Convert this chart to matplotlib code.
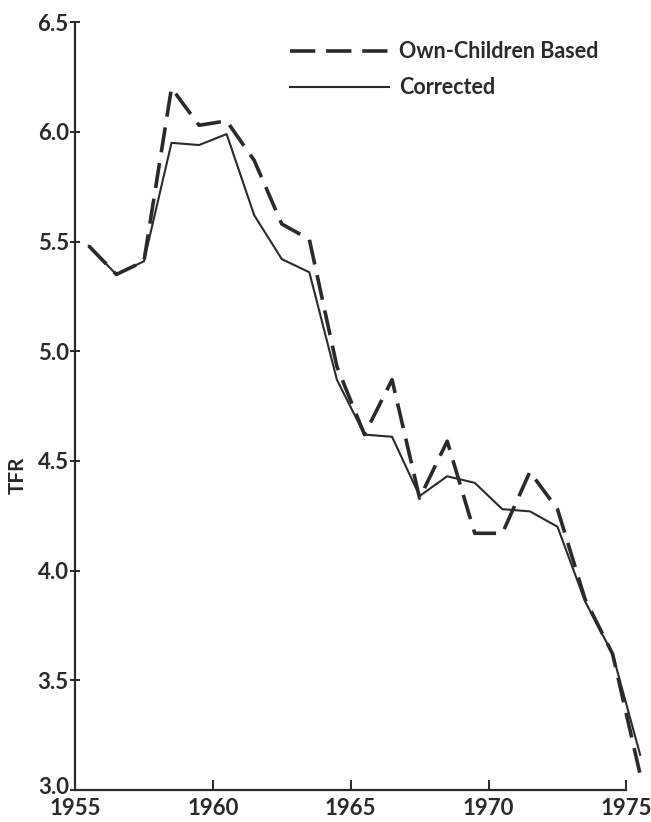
import matplotlib.pyplot as plt
from matplotlib.transforms import ScaledTranslation

plt.rcParams["font.family"] = ["Lato", "DejaVu Sans"]

# mid-year TFR estimates
years = [1955.5, 1956.5, 1957.5, 1958.5, 1959.5, 1960.5, 1961.5, 1962.5, 1963.5, 1964.5, 1965.5,
         1966.5, 1967.5, 1968.5, 1969.5, 1970.5, 1971.5, 1972.5, 1973.5, 1974.5, 1975.5]
own_children = [5.48, 5.35, 5.41, 6.20, 6.03, 6.05, 5.87, 5.58, 5.51, 4.93, 4.62,
                4.87, 4.33, 4.59, 4.17, 4.17, 4.45, 4.28, 3.87, 3.62, 3.07]
corrected = [5.48, 5.35, 5.41, 5.95, 5.94, 5.99, 5.62, 5.42, 5.36, 4.87, 4.62,
             4.61, 4.34, 4.43, 4.40, 4.28, 4.27, 4.20, 3.86, 3.62, 3.16]

x_ticks = [1955, 1960, 1965, 1970, 1975]
y_ticks = [3.0, 3.5, 4.0, 4.5, 5.0, 5.5, 6.0, 6.5]

ink = "#2a2a2a"

fig = plt.figure(figsize=(6.51, 8.22), dpi=100)
ax = fig.add_axes([0.1152, 0.039, 0.847, 0.934])

ax.plot(years, own_children, color=ink, lw=2.6, dashes=(7, 3), clip_on=False,
        label="Own-Children Based")
ax.plot(years, corrected, color=ink, lw=1.5, clip_on=False, label="Corrected")

ax.set_xlim(1955, 1975)
ax.set_ylim(3.0, 6.5)
ax.set_xticks(x_ticks)
ax.set_yticks(y_ticks)
ax.set_yticklabels([f"{v:.1f}" for v in y_ticks])

for side in ("top", "right"):
    ax.spines[side].set_visible(False)
for side in ("left", "bottom"):
    ax.spines[side].set_color(ink)
    ax.spines[side].set_linewidth(1.6)

ax.tick_params(axis="x", direction="in", length=7, width=1.4, color=ink,
               labelsize=16, labelcolor=ink, pad=6)
ax.tick_params(axis="y", direction="inout", length=7, width=1.4, color=ink,
               labelsize=16, labelcolor=ink, pad=1)
for lab in ax.get_xticklabels() + ax.get_yticklabels():
    lab.set_fontweight("bold")

# lift the bottom "3.0" a touch so it clears the "1955" below it
bottom_lab = ax.get_yticklabels()[0]
bottom_lab.set_transform(bottom_lab.get_transform() + ScaledTranslation(0, 3 / 72, fig.dpi_scale_trans))

ax.set_ylabel("TFR", fontsize=15, fontweight="bold", color=ink)
ax.yaxis.set_label_coords(-0.085, 0.41)

leg = ax.legend(loc="upper left", bbox_to_anchor=(0.39, 0.975), frameon=False,
                borderaxespad=0, borderpad=0,
                handlelength=4.6, handletextpad=0.45, labelspacing=0.7,
                prop={"size": 15.5, "weight": "bold"})
for t in leg.get_texts():
    t.set_color(ink)

fig.savefig("out.png", dpi=100)
